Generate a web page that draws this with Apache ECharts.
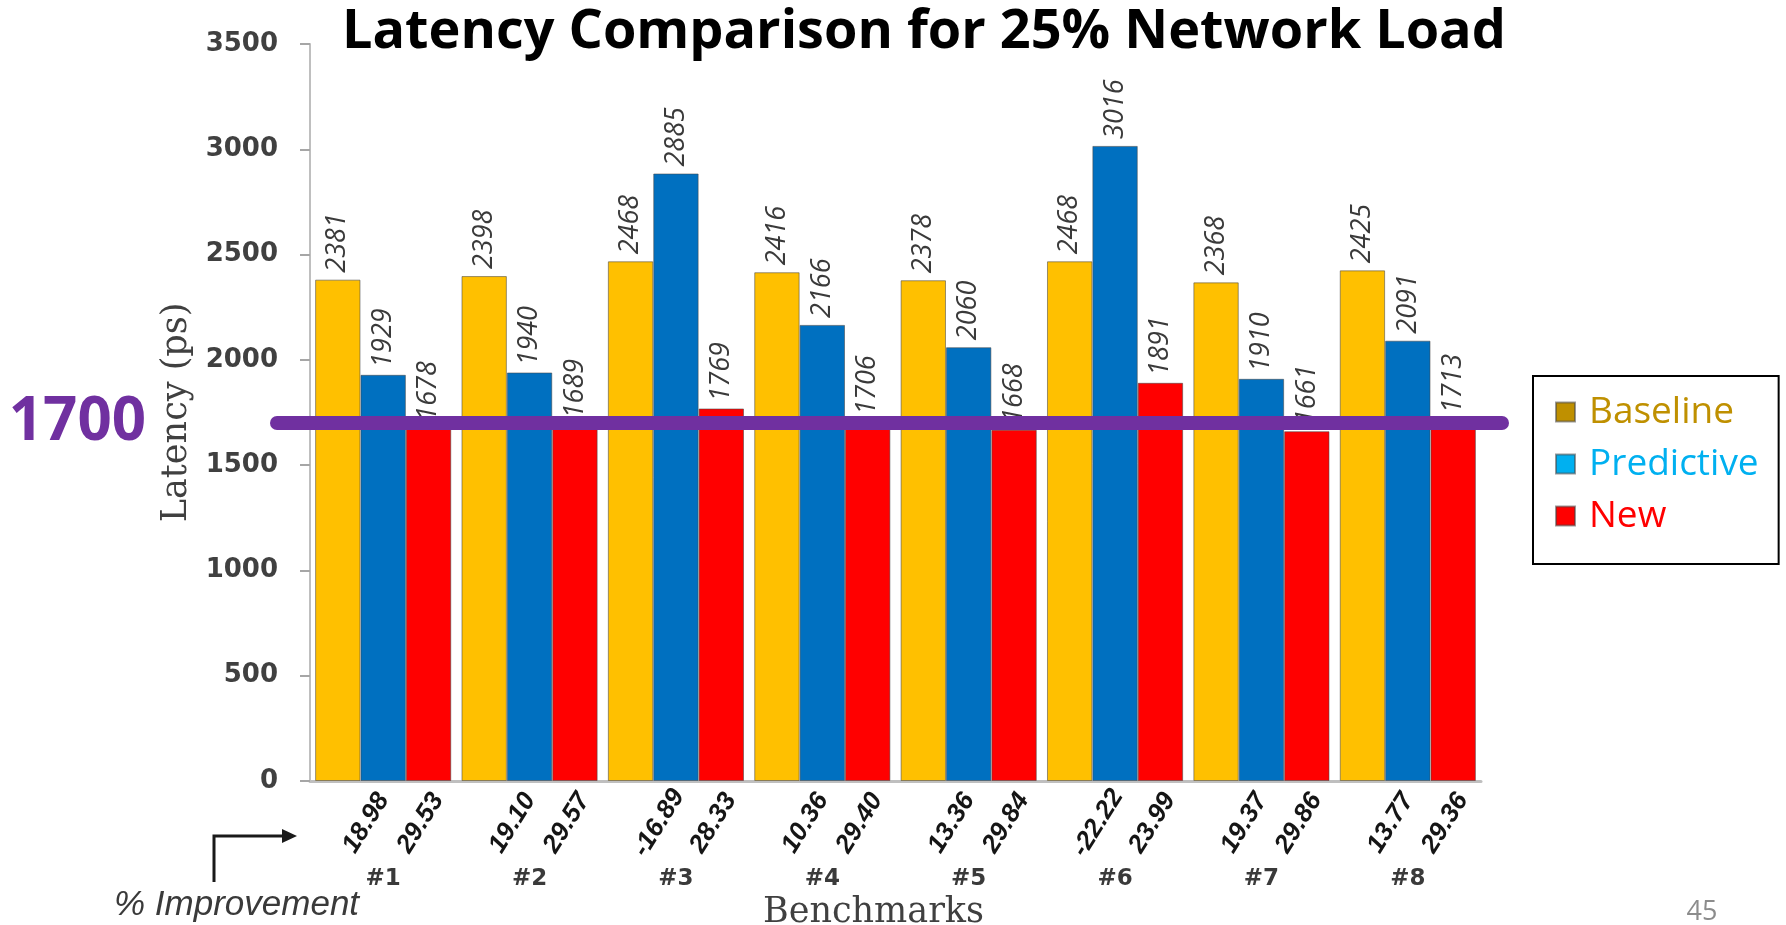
<!DOCTYPE html>
<html>
<head>
<meta charset="utf-8">
<script src="https://cdn.jsdelivr.net/npm/echarts@6/dist/echarts.min.js"></script>
<style>
  html, body { margin: 0; padding: 0; background: #fff; }
  #chart { width: 1786px; height: 925px; }
</style>
</head>
<body>
<div id="chart"></div>
<script>
// Benchmarks on the category axis
const categories = ['#1', '#2', '#3', '#4', '#5', '#6', '#7', '#8'];

// Latency (ps) per scheme
const baseline   = [2381, 2398, 2468, 2416, 2378, 2468, 2368, 2425];
const predictive = [1929, 1940, 2885, 2166, 2060, 3016, 1910, 2091];
const newScheme  = [1678, 1689, 1769, 1706, 1668, 1891, 1661, 1713];

// % improvement over baseline, printed under the Predictive and New bars
const predictiveImprovement = ['18.98', '19.10', '-16.89', '10.36', '13.36', '-22.22', '19.37', '13.77'];
const newImprovement        = ['29.53', '29.57', '28.33', '29.40', '29.84', '23.99', '29.86', '29.36'];

// Value-axis ticks and the highlighted reference latency
const yMin = 0, yMax = 3500, yStep = 500;
const referenceLatency = 1700;

const CAT_GAP = 0.07;

const chart = echarts.init(document.getElementById('chart'), null, { renderer: 'canvas' });

const valueLabel = {
  show: true,
  position: 'top',
  rotate: 90,
  align: 'left',
  verticalAlign: 'middle',
  distance: 7,
  fontFamily: 'Open Sans',
  fontStyle: 'italic',
  fontSize: 27,
  color: '#3a3a3a'
};

const barBorder = { borderColor: 'rgba(70,70,70,0.55)', borderWidth: 1 };

// Improvement figures drawn under the Predictive (middle) and New (right) bars
function renderImprovement(params, api) {
  const i = api.value(0);
  const base = api.coord([i, 0]);
  const band = api.size([1, 0])[0];
  const bw = band * (1 - CAT_GAP) / 3;
  const rot = 58 * Math.PI / 180;
  const txt = (s, cx) => ({
    type: 'text',
    x: cx,
    y: base[1] + 42,
    rotation: rot,
    style: {
      text: s,
      align: 'center',
      verticalAlign: 'middle',
      fontFamily: 'Liberation Sans',
      fontWeight: 'bold',
      fontStyle: 'italic',
      fontSize: 26,
      fill: '#151515'
    }
  });
  return {
    type: 'group',
    children: [
      txt(predictiveImprovement[i], base[0] - 17),
      txt(newImprovement[i], base[0] + bw - 8)
    ]
  };
}

const option = {
  backgroundColor: '#ffffff',
  animation: false,
  title: {
    text: 'Latency Comparison for 25% Network Load',
    left: 342,
    top: 1,
    padding: 0,
    textStyle: {
      fontFamily: 'Open Sans',
      fontWeight: 'bold',
      fontSize: 54,
      lineHeight: 64,
      color: '#000000'
    }
  },
  legend: {
    orient: 'vertical',
    left: 1533,
    top: 376,
    padding: [16, 20, 28, 22],
    borderColor: '#000000',
    borderWidth: 2,
    itemWidth: 19,
    itemHeight: 19,
    itemGap: 12,
    icon: 'rect',
    textStyle: {
      fontFamily: 'Open Sans',
      fontSize: 37,
      lineHeight: 40,
      padding: [0, 0, 0, 9]
    },
    data: [
      { name: 'Baseline',   itemStyle: { color: '#BF9000' }, textStyle: { color: '#BF9000' } },
      { name: 'Predictive', itemStyle: { color: '#00B0F0' }, textStyle: { color: '#00B0F0' } },
      { name: 'New',        itemStyle: { color: '#FF0000' }, textStyle: { color: '#FF0000' } }
    ]
  },
  grid: {
    left: 310,
    right: 305,
    top: 44,
    bottom: 144,
    containLabel: false,
    outerBoundsMode: 'none'
  },
  xAxis: {
    type: 'category',
    data: categories,
    name: 'Benchmarks',
    nameLocation: 'middle',
    nameGap: 104,
    nameTextStyle: {
      fontFamily: 'DejaVu Serif',
      fontSize: 35,
      color: '#404040',
      padding: [0, 44, 0, 0]
    },
    axisLine: { lineStyle: { color: '#bfbfbf', width: 3 } },
    axisTick: { show: false },
    axisLabel: {
      margin: 87,
      fontFamily: 'DejaVu Sans',
      fontWeight: 'bold',
      fontSize: 23,
      color: '#3a3a3a'
    },
    splitLine: { show: false }
  },
  yAxis: {
    type: 'value',
    min: yMin,
    max: yMax,
    interval: yStep,
    name: 'Latency (ps)',
    nameLocation: 'middle',
    nameGap: 87,
    nameTextStyle: {
      fontFamily: 'DejaVu Serif',
      fontSize: 35,
      color: '#404040'
    },
    axisLine: { show: true, lineStyle: { color: '#bfbfbf', width: 2 } },
    axisTick: { show: true, length: 10, inside: false, lineStyle: { color: '#a6a6a6', width: 2 } },
    axisLabel: {
      margin: 32,
      formatter: (v) => String(v),
      fontFamily: 'DejaVu Sans',
      fontWeight: 'bold',
      fontSize: 26,
      color: '#404040'
    },
    splitLine: { show: false }
  },
  series: [
    {
      name: 'Baseline',
      type: 'bar',
      data: baseline,
      barGap: '0%',
      barCategoryGap: (CAT_GAP * 100) + '%',
      itemStyle: Object.assign({ color: '#FFC000' }, barBorder),
      label: valueLabel
    },
    {
      name: 'Predictive',
      type: 'bar',
      data: predictive,
      barGap: '0%',
      barCategoryGap: (CAT_GAP * 100) + '%',
      itemStyle: Object.assign({ color: '#0070C0' }, barBorder),
      label: valueLabel
    },
    {
      name: 'New',
      type: 'bar',
      data: newScheme,
      barGap: '0%',
      barCategoryGap: (CAT_GAP * 100) + '%',
      itemStyle: Object.assign({ color: '#FF0000' }, barBorder),
      label: valueLabel
    },
    {
      name: 'Improvement',
      type: 'custom',
      clip: false,
      silent: true,
      data: categories.map((c, i) => [i, 0]),
      encode: { x: 0, y: 1 },
      renderItem: renderImprovement,
      z: 5
    }
  ]
};

chart.setOption(option);

// Overlays: reference-latency band and its label, the improvement arrow, page number
const lineY = chart.convertToPixel({ yAxisIndex: 0 }, referenceLatency);

chart.setOption({
  graphic: [
    {
      type: 'line',
      z: 100,
      shape: { x1: 277, y1: lineY, x2: 1502, y2: lineY },
      style: { stroke: '#7030A0', lineWidth: 14, lineCap: 'round' }
    },
    {
      type: 'text',
      z: 100,
      x: 146,
      y: lineY,
      style: {
        text: String(referenceLatency),
        align: 'right',
        verticalAlign: 'middle',
        fontFamily: 'Open Sans',
        fontWeight: 'bold',
        fontSize: 60,
        fill: '#7030A0'
      }
    },
    {
      type: 'polyline',
      z: 100,
      shape: { points: [[214, 882], [214, 836], [284, 836]] },
      style: { stroke: '#1a1a1a', lineWidth: 3, fill: null }
    },
    {
      type: 'polygon',
      z: 100,
      shape: { points: [[282, 829], [297, 836], [282, 843]] },
      style: { fill: '#1a1a1a' }
    },
    {
      type: 'text',
      z: 100,
      x: 114,
      y: 905,
      style: {
        text: '% Improvement',
        align: 'left',
        verticalAlign: 'middle',
        fontFamily: 'Liberation Sans',
        fontStyle: 'italic',
        fontSize: 35,
        fill: '#3a3a3a'
      }
    },
    {
      type: 'text',
      z: 100,
      x: 1702,
      y: 912,
      style: {
        text: '45',
        align: 'center',
        verticalAlign: 'middle',
        fontFamily: 'Open Sans',
        fontSize: 27,
        fill: '#8c8c8c'
      }
    }
  ]
});
</script>
</body>
</html>
